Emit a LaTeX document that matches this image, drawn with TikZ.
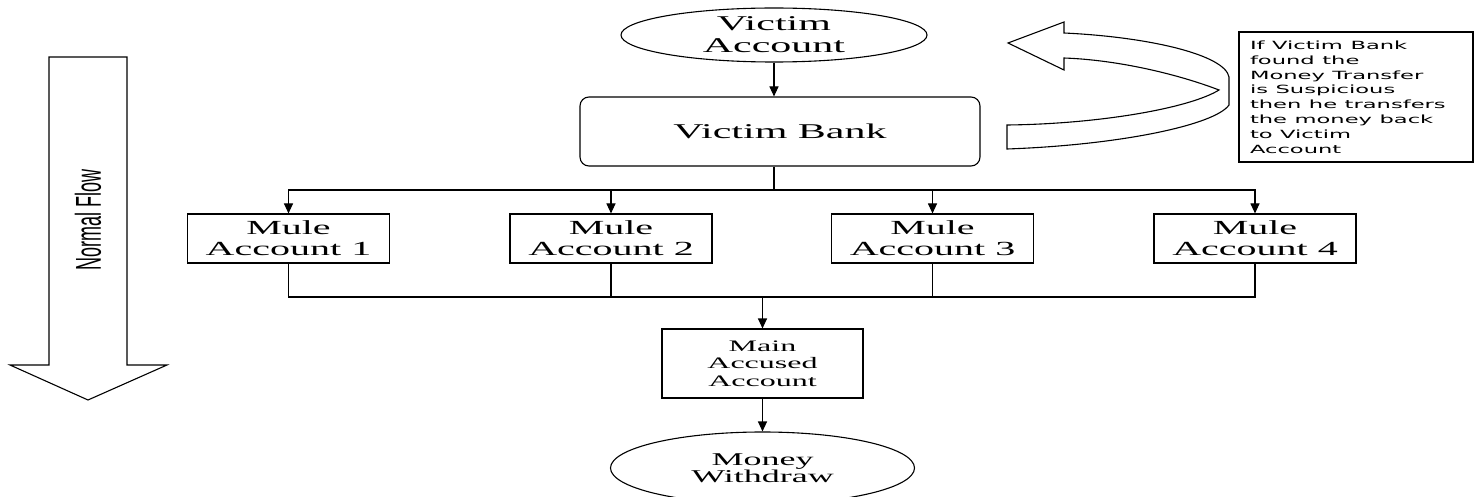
\documentclass[tikz,border=0pt]{standalone}
\usepackage{fontspec}
\setmainfont{Liberation Serif}
\setsansfont{Liberation Sans}
\newfontfamily\notefont{DejaVu Sans}
\usetikzlibrary{shapes,arrows.meta,positioning,calc}

\begin{document}
\begin{tikzpicture}[x=0.5pt, y=-1pt, xscale=2, every node/.append style={transform shape},
        line width=1.1pt, >={Triangle[length=10pt,width=9pt]},
        acct/.style={draw, rectangle, minimum width=101pt, minimum height=49pt, inner sep=1pt, align=center, font=\fontsize{20}{21}\selectfont},
        oval/.style={draw, ellipse, inner sep=0pt, align=center}]
        \useasboundingbox (0,0) rectangle (1476,497);

        % top of the chain
        \node [oval, minimum width=153pt, minimum height=54pt, font=\fontsize{21}{22}\selectfont] (vacc) at (774,35) {Victim\\Account};
        \node [draw, rounded corners=9pt, minimum width=200pt, minimum height=69pt, font=\fontsize{21}{22}\selectfont] (vbank) at (780,131.5) {Victim Bank};
        \draw [->] (vacc.south) -- (vacc.south |- vbank.north);

        % mule accounts
        \foreach \x [count=\i] in {288.5,611,932.5,1255}
            \node [acct] (mule\i) at (\x,238.5) {Mule\\Account \i};
        \coordinate (split) at (774,190);
        \draw (vacc.south |- vbank.south) -- (split);
        \foreach \i in {1,...,4}
            \draw [->] (split) -| (mule\i.north);

        % main account and withdraw
        \node [acct, minimum width=100.5pt, minimum height=69pt, font=\fontsize{16}{17.5}\selectfont] (main) at (762.5,363.5) {Main\\Accused\\Account};
        \node [oval, minimum width=152pt, minimum height=72pt, font=\fontsize{18}{17}\selectfont] (money) at (762.5,468) {Money\\Withdraw};
        \coordinate (join) at (762.5,297);
        \foreach \i in {1,...,4}
            \draw (mule\i.south) |- (join);
        \draw [->] (join) -- (main.north);
        \draw [->] (main) -- (money);

        % normal flow arrow
        \draw (49,57) -- (127,57) -- (127,365) -- (167,365) -- (88,400) -- (10,365) -- (49,365) -- cycle;
        \node [rotate=90, font=\sffamily\fontsize{18}{18}\selectfont] (flow) at (88,220) {Normal Flow};

        % reverse arrow and note
        \draw (1007,125) .. controls (1100,124) and (1190,108) .. (1219,90)
            .. controls (1180,75) and (1120,60) .. (1064,58)
            -- (1064,70) -- (1008,43) -- (1064,22) -- (1064,33)
            .. controls (1150,37) and (1225,55) .. (1229,77)
            -- (1229,105)
            .. controls (1215,125) and (1120,145) .. (1007,149) -- cycle;
        \node [draw, minimum width=117pt, minimum height=130pt, inner sep=0pt, text width=106pt, align=left, font=\notefont\fontsize{11.3}{14.8}\selectfont] (note) at (1356,97)
            {If Victim Bank\\found the\\Money Transfer\\is Suspicious\\then he transfers\\the money back\\to Victim\\Account};
    \end{tikzpicture}
\end{document}
